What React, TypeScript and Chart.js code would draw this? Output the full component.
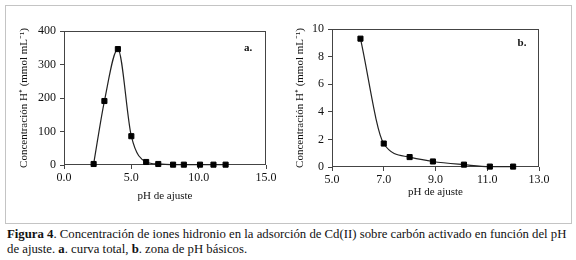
import React, { useEffect, useRef } from "react";
import { Chart, registerables } from "chart.js";

Chart.register(...registerables);

// Chart a: total curve
const phA = [2.2, 3.0, 4.0, 5.0, 6.1, 7.0, 8.1, 8.9, 10.1, 11.1, 12.0];
const concA = [3, 191, 346, 86, 9, 3, 1, 1, 1, 1, 1];
const xTicksA = [0, 5, 10, 15];
const yTicksA = [0, 100, 200, 300, 400];

// Chart b: basic pH zone
const phB = [6.1, 7.0, 8.0, 8.9, 10.1, 11.1, 12.0];
const concB = [9.3, 1.7, 0.72, 0.4, 0.17, 0.03, 0.03];
const xTicksB = [5, 7, 9, 11, 13];
const yTicksB = [0, 2, 4, 6, 8, 10];

const xTitle = "pH de ajuste";
const yTitle = "Concentración H⁺ (mmol mL⁻¹)";
const SERIF = "'Liberation Serif', serif";

const framePlugin = {
  id: "frame",
  beforeDatasetsDraw(chart: any) {
    const { ctx, chartArea } = chart;
    ctx.save();
    ctx.strokeStyle = "#444";
    ctx.lineWidth = 1;
    ctx.strokeRect(
      Math.round(chartArea.left) + 0.5,
      Math.round(chartArea.top) + 0.5,
      Math.round(chartArea.right - chartArea.left) - 1,
      Math.round(chartArea.bottom - chartArea.top) - 1
    );
    ctx.restore();
  },
  afterDraw(chart: any, _args: any, opts: any) {
    const { ctx, chartArea } = chart;
    ctx.save();
    ctx.fillStyle = "#111";
    ctx.font = `bold 11px ${SERIF}`;
    ctx.textAlign = "center";
    ctx.textBaseline = "middle";
    ctx.fillText(opts.label, chartArea.right - opts.dx, chartArea.top + opts.dy);
    ctx.restore();
  },
};

type Cfg = {
  xs: number[];
  ys: number[];
  xTicks: number[];
  yTicks: number[];
  yAxisWidth: number;
  xAxisHeight: number;
  padTop: number;
  padRight: number;
  yTitlePad: number;
  xTitlePad: number;
  label: string;
  labelDx: number;
  labelDy: number;
  yDecimals: number;
};

function makeChart(canvas: HTMLCanvasElement, c: Cfg) {
  const points = c.xs.map((x, i) => ({ x, y: c.ys[i] }));
  return new Chart(canvas, {
    type: "scatter",
    data: {
      datasets: [
        {
          data: points,
          showLine: true,
          borderColor: "#222",
          borderWidth: 1.2,
          cubicInterpolationMode: "monotone",
          pointStyle: "rect",
          pointRadius: 3.6,
          pointBackgroundColor: "#000",
          pointBorderColor: "#000",
          pointBorderWidth: 1,
          clip: false as any,
        },
      ],
    },
    options: {
      responsive: false,
      animation: false,
      devicePixelRatio: 1,
      layout: { padding: { top: c.padTop, right: c.padRight, left: 0, bottom: 0 } },
      plugins: {
        legend: { display: false },
        tooltip: { enabled: false },
        frame: { label: c.label, dx: c.labelDx, dy: c.labelDy },
      } as any,
      scales: {
        x: {
          type: "linear",
          min: c.xTicks[0],
          max: c.xTicks[c.xTicks.length - 1],
          afterBuildTicks: (s: any) => {
            s.ticks = c.xTicks.map((v) => ({ value: v }));
          },
          afterFit: (s: any) => {
            s.height = c.xAxisHeight;
          },
          border: { display: false },
          grid: {
            display: true,
            drawOnChartArea: false,
            drawTicks: true,
            tickLength: 4,
            color: "#444",
          },
          ticks: {
            color: "#111",
            font: { family: SERIF, size: 12 },
            padding: 2,
            maxRotation: 0,
            callback: (v: any) => Number(v).toFixed(1),
          },
          title: {
            display: true,
            text: xTitle,
            color: "#111",
            font: { family: SERIF, size: 11 },
            padding: { top: 0, bottom: c.xTitlePad },
          },
        },
        y: {
          type: "linear",
          min: c.yTicks[0],
          max: c.yTicks[c.yTicks.length - 1],
          afterBuildTicks: (s: any) => {
            s.ticks = c.yTicks.map((v) => ({ value: v }));
          },
          afterFit: (s: any) => {
            s.width = c.yAxisWidth;
          },
          border: { display: false },
          grid: {
            display: true,
            drawOnChartArea: false,
            drawTicks: true,
            tickLength: 4,
            color: "#444",
          },
          ticks: {
            color: "#111",
            font: { family: SERIF, size: 12 },
            padding: 4,
            callback: (v: any) => Number(v).toFixed(c.yDecimals),
          },
          title: {
            display: true,
            text: yTitle,
            color: "#111",
            font: { family: SERIF, size: 11 },
            padding: { top: c.yTitlePad, bottom: 0 },
          },
        },
      },
    },
    plugins: [framePlugin as any],
  });
}

export default function App() {
  const refA = useRef<HTMLCanvasElement>(null);
  const refB = useRef<HTMLCanvasElement>(null);

  useEffect(() => {
    const a = makeChart(refA.current!, {
      xs: phA,
      ys: concA,
      xTicks: xTicksA,
      yTicks: yTicksA,
      yAxisWidth: 64,
      xAxisHeight: 50,
      padTop: 31,
      padRight: 22,
      yTitlePad: 18,
      xTitlePad: 12,
      label: "a.",
      labelDx: 18,
      labelDy: 17,
      yDecimals: 0,
    });
    const b = makeChart(refB.current!, {
      xs: phB,
      ys: concB,
      xTicks: xTicksB,
      yTicks: yTicksB,
      yAxisWidth: 44,
      xAxisHeight: 48,
      padTop: 29,
      padRight: 37,
      yTitlePad: 6,
      xTitlePad: 16,
      label: "b.",
      labelDx: 17,
      labelDy: 14,
      yDecimals: 0,
    });
    let alive = true;
    const fonts = (document as any).fonts;
    if (fonts && fonts.load) {
      Promise.all([
        fonts.load("12px 'Liberation Serif'"),
        fonts.load("bold 12px 'Liberation Serif'"),
      ]).then(() => {
        if (alive) {
          a.update();
          b.update();
        }
      });
    }
    return () => {
      alive = false;
      a.destroy();
      b.destroy();
    };
  }, []);

  return (
    <div
      style={{
        position: "absolute",
        left: 0,
        top: 0,
        width: 576,
        height: 260,
        background: "#fff",
        overflow: "hidden",
        fontFamily: SERIF,
      }}
    >
      <div
        style={{
          position: "absolute",
          left: 5,
          top: 5,
          width: 565,
          height: 217,
          border: "1px solid #c4c4c4",
        }}
      />
      <canvas
        ref={refA}
        width={288}
        height={215}
        style={{ position: "absolute", left: 0, top: 0, width: 288, height: 215 }}
      />
      <canvas
        ref={refB}
        width={288}
        height={215}
        style={{ position: "absolute", left: 288, top: 0, width: 288, height: 215 }}
      />
      <div
        style={{
          position: "absolute",
          left: 7,
          top: 227,
          width: 570,
          fontSize: 12.75,
          lineHeight: "15px",
          color: "#111",
          whiteSpace: "nowrap",
        }}
      >
        <b>Figura 4</b>. Concentración de iones hidronio en la adsorción de Cd(II) sobre carbón activado en función del pH
        <br />
        de ajuste. <b>a</b>. curva total, <b>b</b>. zona de pH básicos.
      </div>
    </div>
  );
}
